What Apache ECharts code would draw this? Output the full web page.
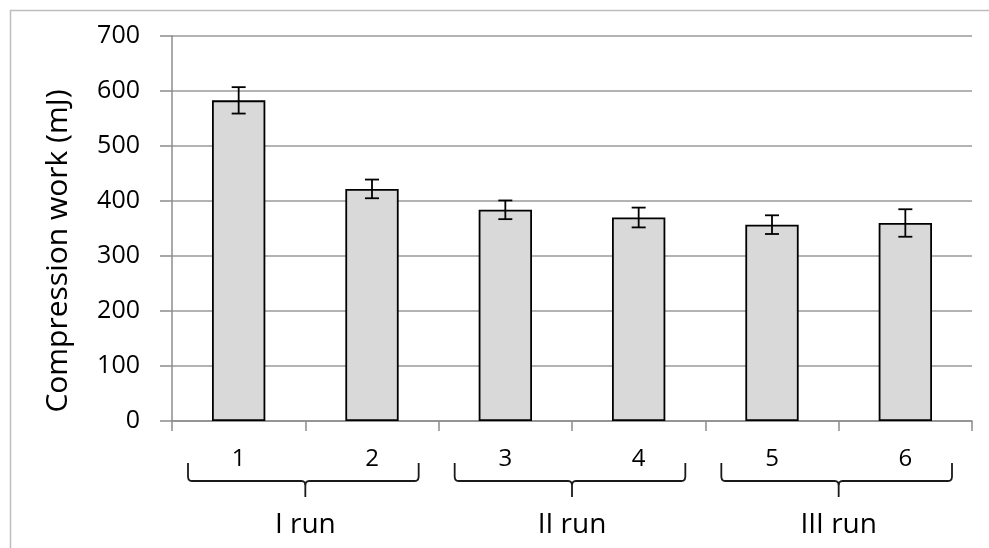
<!DOCTYPE html>
<html><head><meta charset="utf-8">
<script src="https://cdn.jsdelivr.net/npm/echarts@6/dist/echarts.min.js"></script>
<style>html,body{margin:0;padding:0;background:#fff}#c{width:989px;height:548px}</style>
</head><body><div id="c"></div>
<script>
var categories = ['1','2','3','4','5','6'];
var values = [583, 422, 384, 370, 357, 360];
var errors = [24, 17, 17, 18, 17, 25];
var groups = [
  {label:'I run', from:0, to:1},
  {label:'II run', from:2, to:3},
  {label:'III run', from:4, to:5}
];
var yTicks = {min:0, max:700, interval:100};
var yTitle = 'Compression work (mJ)';

var FONT = 'Open Sans';
var chart = echarts.init(document.getElementById('c'), null, {renderer:'canvas'});
var errData = values.map(function(v,i){return [i, v-errors[i], v+errors[i]];});

var option = {
  animation:false,
  backgroundColor:'#fff',
  grid:{left:172, right:17, top:36, bottom:127},
  xAxis:{type:'category', data:categories, boundaryGap:true,
    axisLine:{lineStyle:{color:'#8c8c8c', width:1.5}},
    axisTick:{show:true, length:10, lineStyle:{color:'#8c8c8c', width:1.5}},
    axisLabel:{margin:26, fontFamily:FONT, fontSize:24, color:'#000'},
    splitLine:{show:false}},
  yAxis:{type:'value', min:yTicks.min, max:yTicks.max, interval:yTicks.interval,
    axisLine:{show:true, lineStyle:{color:'#8c8c8c', width:1.5}},
    axisTick:{show:true, length:12, lineStyle:{color:'#8c8c8c', width:1.5}},
    axisLabel:{margin:32, fontFamily:FONT, fontSize:25, color:'#000'},
    splitLine:{lineStyle:{color:'#9a9a9a', width:1.5}}},
  series:[
    {type:'bar', data:values, barWidth:'40%',
     itemStyle:{color:'#d9d9d9', borderColor:'#000', borderWidth:1.8}},
    {type:'custom', data:errData, z:10,
     renderItem:function(params, api){
       var x = api.value(0);
       var lo = api.coord([x, api.value(1)]);
       var hi = api.coord([x, api.value(2)]);
       var cx = lo[0], hw = 7;
       var st = {stroke:'#000', lineWidth:1.8};
       return {type:'group', children:[
         {type:'line', shape:{x1:cx, y1:lo[1], x2:cx, y2:hi[1]}, style:st},
         {type:'line', shape:{x1:cx-hw, y1:lo[1], x2:cx+hw, y2:lo[1]}, style:st},
         {type:'line', shape:{x1:cx-hw, y1:hi[1], x2:cx+hw, y2:hi[1]}, style:st}
       ]};
     }}
  ]
};
chart.setOption(option);

function buildGraphics(){
  var els = [];
  els.push({type:'rect', shape:{x:10.5, y:10.5, width:1200, height:800},
    style:{fill:'none', stroke:'#bdbdbd', lineWidth:1.5}, silent:true, z:-1});
  els.push({type:'text', x:58, y:251, rotation:Math.PI/2,
    style:{text:yTitle, font:'30px "'+FONT+'"', fill:'#000', textAlign:'center', textVerticalAlign:'middle'}});
  var c0 = chart.convertToPixel({xAxisIndex:0}, 0);
  var c1 = chart.convertToPixel({xAxisIndex:0}, 1);
  var w = c1 - c0;
  var yTop = 463, yMid = 481, yTip = 497;
  groups.forEach(function(g){
    var a = chart.convertToPixel({xAxisIndex:0}, g.from);
    var b = chart.convertToPixel({xAxisIndex:0}, g.to);
    var x0 = a - 0.38*w, x1 = b + 0.35*w, m = (a+b)/2;
    var left = [[x0, yTop],[x0, yMid-4],[x0+0.6, yMid-1.5],[x0+2, yMid-0.3],[x0+4, yMid],[m-4, yMid],[m-2, yMid+0.3],[m-0.6, yMid+1.5],[m, yMid+4],[m, yTip]];
    var right = [[x1, yTop],[x1, yMid-4],[x1-0.6, yMid-1.5],[x1-2, yMid-0.3],[x1-4, yMid],[m+4, yMid],[m+2, yMid+0.3],[m+0.6, yMid+1.5],[m, yMid+4]];
    var st = {fill:'none', stroke:'#1a1a1a', lineWidth:1.8};
    els.push({type:'polyline', shape:{points:left}, style:st});
    els.push({type:'polyline', shape:{points:right}, style:st});
    els.push({type:'text', x:m, y:525,
      style:{text:g.label, font:'28px "'+FONT+'"', fill:'#000', textAlign:'center', textVerticalAlign:'middle'}});
  });
  chart.setOption({graphic:els});
}
buildGraphics();
</script>
</body></html>
